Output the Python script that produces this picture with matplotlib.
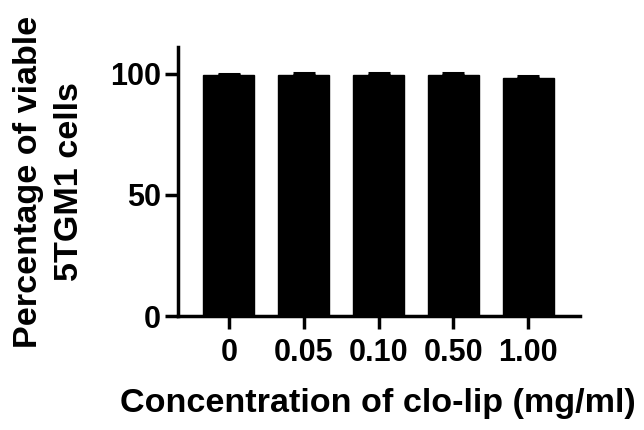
import numpy as np
import matplotlib
matplotlib.use("Agg")
import matplotlib.pyplot as plt

plt.rcParams['font.family'] = ['Liberation Sans', 'DejaVu Sans']
plt.rcParams['font.weight'] = 'bold'

conc = ['0', '0.05', '0.10', '0.50', '1.00']
viable = [99.3, 99.6, 99.6, 99.5, 98.0]
err = [0.7, 0.6, 0.6, 0.6, 0.8]

fig = plt.figure(figsize=(6.44, 4.30), dpi=100)
ax = fig.add_axes([0.2764, 0.265, 0.624, 0.626])

x = np.arange(len(conc))
ax.bar(x, viable, width=0.68, color='black', edgecolor='black')
ax.errorbar(x, viable, yerr=[np.zeros(len(err)), err], fmt='none',
            ecolor='black', elinewidth=2, capsize=8, capthick=2.2)

ax.set_xlim(-0.68, 4.69)
ax.set_ylim(0, 111)
ax.set_yticks([0, 50, 100])
ax.set_xticks(x)
ax.set_xticklabels(conc)

for s in ['top', 'right']:
    ax.spines[s].set_visible(False)
for s in ['left', 'bottom']:
    ax.spines[s].set_linewidth(2.5)
ax.tick_params(axis='both', length=9.5, width=2.5, labelsize=22)
ax.tick_params(axis='y', pad=3)
ax.tick_params(axis='x', pad=6)

ax.set_xlabel('Concentration of clo-lip (mg/ml)', fontsize=24.6, fontweight='bold', va='baseline')
ax.xaxis.set_label_coords(0.4975, -0.357)
ax.set_ylabel('Percentage of viable\n5TGM1 cells', fontsize=24.6, fontweight='bold', va='center', linespacing=1.4)
ax.yaxis.set_label_coords(-0.321, 0.5)

fig.savefig('out.png', dpi=100)
